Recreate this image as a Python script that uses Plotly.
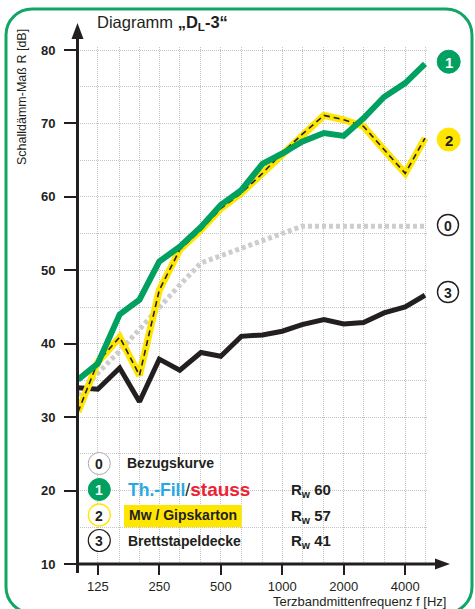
import math
import plotly.graph_objects as go

# Third-octave band centre frequencies [Hz]
freqs = [100, 125, 160, 200, 250, 315, 400, 500, 630, 800, 1000, 1250, 1600, 2000, 2500, 3150, 4000, 5000]

# Sound reduction index R [dB] per band
ref_curve = [33, 36, 39, 42, 45, 48, 51, 52, 53, 54, 55, 56, 56, 56, 56, 56, 56, 56]
thfill = [35.1, 37.3, 44.0, 46.0, 51.2, 53.2, 55.9, 58.9, 60.9, 64.5, 65.9, 67.5, 68.7, 68.3, 70.7, 73.6, 75.5, 78.1]
mw_gips = [30.7, 37.5, 40.9, 35.7, 47.3, 52.8, 55.5, 58.4, 60.5, 63.2, 66.0, 68.5, 71.1, 70.5, 69.6, 66.4, 63.2, 68.0]
brett = [34.0, 33.8, 36.7, 32.1, 37.9, 36.4, 38.8, 38.3, 41.0, 41.2, 41.7, 42.6, 43.3, 42.7, 42.9, 44.2, 45.0, 46.6]

# Axis ticks
x_tick_vals = [125, 250, 500, 1000, 2000, 4000]
x_tick_text = ["125", "250", "500", "1000", "2000", "4000"]
y_tick_vals = [10, 20, 30, 40, 50, 60, 70, 80]

# Legend content
legend_ids = ["0", "1", "2", "3"]
legend_rw = [None, 60, 57, 41]

GREEN = "#00a160"
YELLOW = "#ffe600"
INK = "#231f20"
GREY = "#cdcdcd"
FRAME = "#12a566"
FONT = "Liberation Sans, Arial, sans-serif"

W, H = 475, 609
PL, PR, PT, PB = 78, 428, 47, 564


def pxx(x):
    return (x - PL) / (PR - PL)


def pxy(y):
    return (PB - y) / (PB - PT)


fig = go.Figure()

fig.add_trace(go.Scatter(x=freqs, y=ref_curve, mode="lines",
                         line=dict(color=GREY, width=5, dash="4px,3px"), hoverinfo="skip"))
fig.add_trace(go.Scatter(x=freqs, y=brett, mode="lines",
                         line=dict(color=INK, width=5), hoverinfo="skip"))
fig.add_trace(go.Scatter(x=freqs, y=mw_gips, mode="lines",
                         line=dict(color=YELLOW, width=7), hoverinfo="skip"))
fig.add_trace(go.Scatter(x=freqs, y=mw_gips, mode="lines",
                         line=dict(color=INK, width=1.6, dash="6px,4px"), hoverinfo="skip"))
fig.add_trace(go.Scatter(x=freqs, y=thfill, mode="lines",
                         line=dict(color=GREEN, width=6), hoverinfo="skip"))

shapes = []
annotations = []


def rounded_rect(x0, y0, x1, y1, r):
    k = 0.5523 * r
    pts = [
        ("M", [(x0 + r, y0)]),
        ("L", [(x1 - r, y0)]),
        ("C", [(x1 - r + k, y0), (x1, y0 + r - k), (x1, y0 + r)]),
        ("L", [(x1, y1 - r)]),
        ("C", [(x1, y1 - r + k), (x1 - r + k, y1), (x1 - r, y1)]),
        ("L", [(x0 + r, y1)]),
        ("C", [(x0 + r - k, y1), (x0, y1 - r + k), (x0, y1 - r)]),
        ("L", [(x0, y0 + r)]),
        ("C", [(x0, y0 + r - k), (x0 + r - k, y0), (x0 + r, y0)]),
    ]
    s = ""
    for cmd, ps in pts:
        s += cmd + " ".join(f"{pxx(a):.5f},{pxy(b):.5f}" for a, b in ps)
    return s + "Z"


def poly(points):
    return "M" + "L".join(f"{pxx(a):.5f},{pxy(b):.5f}" for a, b in points) + "Z"


# outer frame
shapes.append(dict(type="path", xref="paper", yref="paper", path=rounded_rect(6, 9, 472, 613, 26),
                   line=dict(color=FRAME, width=3), fillcolor="rgba(0,0,0,0)", layer="below"))

# axes with arrow heads
shapes.append(dict(type="line", xref="paper", yref="paper", x0=pxx(77.5), x1=pxx(77.5),
                   y0=pxy(573), y1=pxy(36), line=dict(color=INK, width=3), layer="above"))
shapes.append(dict(type="path", xref="paper", yref="paper",
                   path=poly([(77.5, 23), (71.5, 39), (83.5, 39)]),
                   fillcolor=INK, line=dict(width=0), layer="above"))
shapes.append(dict(type="line", xref="paper", yref="paper", x0=pxx(76), x1=pxx(437),
                   y0=pxy(564), y1=pxy(564), line=dict(color=INK, width=3), layer="above"))
shapes.append(dict(type="path", xref="paper", yref="paper",
                   path=poly([(450, 564), (435, 558.5), (435, 569.5)]),
                   fillcolor=INK, line=dict(width=0), layer="above"))


def badge(cx, cy, r, label, fill, edge, edge_w, txt_color, size):
    shapes.append(dict(type="circle", xref="paper", yref="paper",
                       x0=pxx(cx - r), x1=pxx(cx + r), y0=pxy(cy + r), y1=pxy(cy - r),
                       fillcolor=fill, line=dict(color=edge, width=edge_w), layer="above"))
    annotations.append(dict(xref="paper", yref="paper", x=pxx(cx), y=pxy(cy + 0.5),
                            text=label, showarrow=False, xanchor="center", yanchor="middle",
                            font=dict(family=FONT, size=size, color=txt_color, weight="bold")))


# curve labels at the right
badge(448.7, 61.7, 11.5, legend_ids[1], GREEN, GREEN, 1, "white", 15)
badge(448.7, 139.5, 11.5, legend_ids[2], YELLOW, YELLOW, 1, INK, 15)
badge(448.0, 225.0, 10.5, legend_ids[0], "white", INK, 1.4, INK, 14)
badge(448.0, 292.0, 10.5, legend_ids[3], "white", INK, 1.4, INK, 14)

# legend block
rows = [463.5, 489.5, 515.0, 540.5]
badge(99.3, rows[0], 11, legend_ids[0], "white", "#a8a8a8", 1, INK, 14)
badge(99.3, rows[1], 11, legend_ids[1], GREEN, GREEN, 1, "white", 14)
badge(99.3, rows[2], 11, legend_ids[2], "white", YELLOW, 1.3, INK, 14)
badge(99.3, rows[3], 11, legend_ids[3], "white", INK, 1.2, INK, 14)

shapes.append(dict(type="rect", xref="paper", yref="paper", x0=pxx(124), x1=pxx(241.7),
                   y0=pxy(527.3), y1=pxy(505), fillcolor=YELLOW, line=dict(width=0), layer="above"))

legend_texts = [
    "Bezugskurve",
    "<span style='color:#2aa9e0'>Th.-Fill</span>"
    "<span style='font-weight:normal'>/</span>"
    "<span style='color:#ec2334;font-size:19px'>stauss</span>",
    "Mw / Gipskarton",
    "Brettstapeldecke",
]
legend_sizes = [14, 17.5, 14, 14]
legend_x = [125, 126, 127, 125.5]
for t, s, x, y in zip(legend_texts, legend_sizes, legend_x, rows):
    annotations.append(dict(xref="paper", yref="paper", x=pxx(x), y=pxy(y), text=t, showarrow=False,
                            xanchor="left", yanchor="middle",
                            font=dict(family=FONT, size=s, color=INK, weight="bold")))
for rw, y in zip(legend_rw, rows):
    if rw is None:
        continue
    annotations.append(dict(xref="paper", yref="paper", x=pxx(289), y=pxy(y + 1), showarrow=False,
                            text=f"R<sub>w</sub> {rw}", xanchor="left", yanchor="middle",
                            font=dict(family=FONT, size=15, color=INK, weight="bold")))

# titles
annotations.append(dict(xref="paper", yref="paper", x=pxx(95), y=pxy(23), showarrow=False,
                        text="Diagramm <b>„D<sub>L</sub>-3“</b>", xanchor="left", yanchor="middle",
                        font=dict(family=FONT, size=16.5, color=INK)))
annotations.append(dict(xref="paper", yref="paper", x=pxx(22), y=pxy(97), showarrow=False,
                        text="Schalldämm-Maß R [dB]", textangle=-90, xanchor="center", yanchor="middle",
                        font=dict(family=FONT, size=12.5, color=INK)))
annotations.append(dict(xref="paper", yref="paper", x=pxx(448), y=pxy(601), showarrow=False,
                        text="Terzbandmittenfrequenz f [Hz]", xanchor="right", yanchor="middle",
                        font=dict(family=FONT, size=13, color=INK)))

grid = dict(gridcolor="#c4c4c4", gridwidth=1, griddash="1px,1px")
x_hi = math.log10(5000) + 3 * (math.log10(5000) - 2) / 347
y_hi = 80 + 3 * 70 / 514

fig.update_layout(
    width=W, height=H,
    margin=dict(l=PL, r=W - PR, t=PT, b=H - PB, pad=0),
    paper_bgcolor="white", plot_bgcolor="white",
    showlegend=False,
    shapes=shapes, annotations=annotations,
    xaxis=dict(type="log", range=[2, x_hi], tickvals=x_tick_vals, ticktext=x_tick_text,
               ticks="outside", ticklen=10, tickwidth=2, tickcolor=INK,
               tickfont=dict(family=FONT, size=13, color=INK),
               showgrid=True, **grid, zeroline=False, showline=False,
               minor=dict(tickvals=freqs, showgrid=True, ticks="", **grid)),
    yaxis=dict(range=[10, y_hi], tickvals=y_tick_vals,
               ticks="outside", ticklen=13, tickwidth=2, tickcolor=INK, ticklabelstandoff=6,
               tickfont=dict(family=FONT, size=13, color=INK, weight="bold"),
               showgrid=True, **grid, zeroline=False, showline=False,
               minor=dict(dtick=5, tick0=0, showgrid=True, ticks="", **grid)),
)

fig.write_html("out.html")
